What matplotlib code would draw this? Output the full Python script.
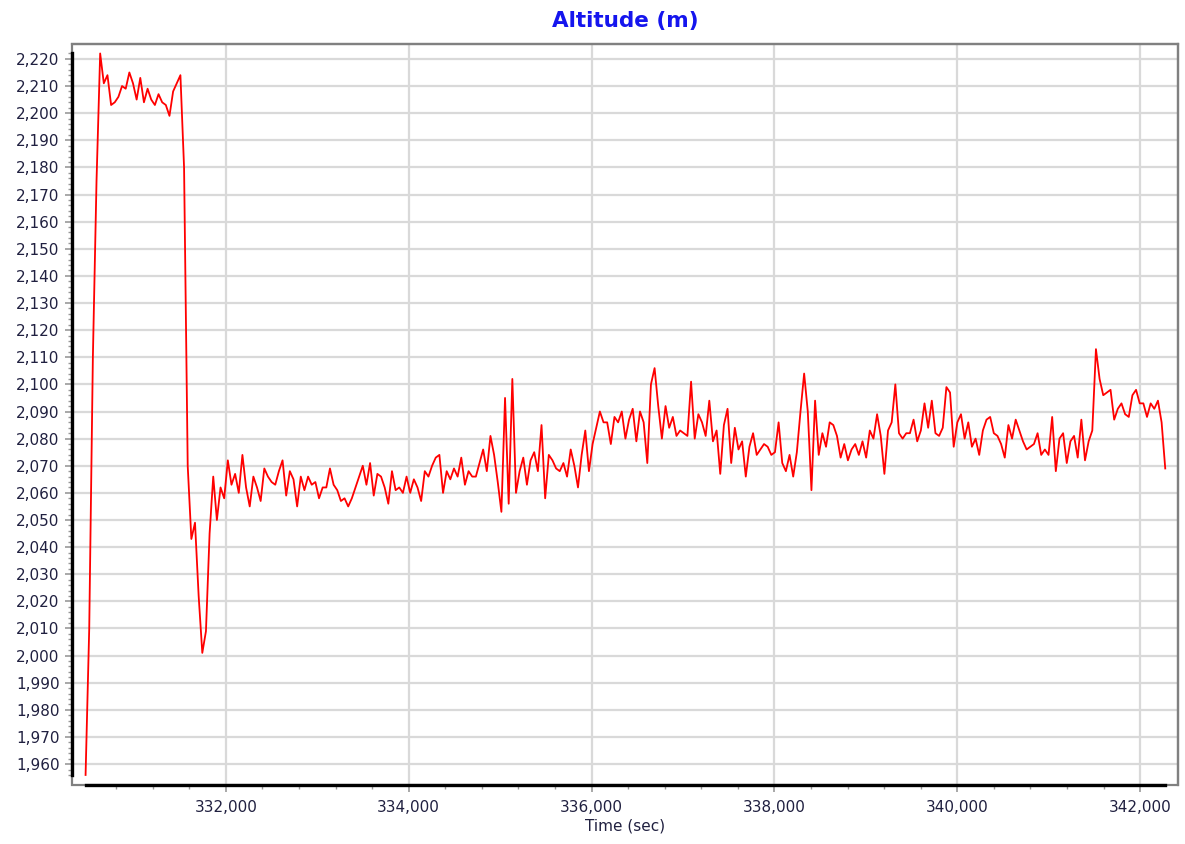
import numpy as np
import matplotlib.pyplot as plt
from matplotlib.patches import Rectangle
from matplotlib.ticker import FixedLocator, FuncFormatter


# sampling of the altitude trace (seconds)
T_START = 330465
T_STEP = 39.9

# altitude in metres, one row per ten samples
ALTITUDE = [
    1956, 2010, 2110, 2175, 2222, 2211, 2214, 2203, 2204, 2206,
    2210, 2209, 2215, 2211, 2205, 2213, 2204, 2209, 2205, 2203,
    2207, 2204, 2203, 2199, 2208, 2211, 2214, 2180, 2070, 2043,
    2049, 2022, 2001, 2009, 2045, 2066, 2050, 2062, 2058, 2072,
    2063, 2067, 2060, 2074, 2062, 2055, 2066, 2062, 2057, 2069,
    2066, 2064, 2063, 2068, 2072, 2059, 2068, 2065, 2055, 2066,
    2061, 2066, 2063, 2064, 2058, 2062, 2062, 2069, 2063, 2061,
    2057, 2058, 2055, 2058, 2062, 2066, 2070, 2063, 2071, 2059,
    2067, 2066, 2062, 2056, 2068, 2061, 2062, 2060, 2066, 2060,
    2065, 2062, 2057, 2068, 2066, 2070, 2073, 2074, 2060, 2068,
    2065, 2069, 2066, 2073, 2063, 2068, 2066, 2066, 2071, 2076,
    2068, 2081, 2074, 2064, 2053, 2095, 2056, 2102, 2060, 2068,
    2073, 2063, 2072, 2075, 2068, 2085, 2058, 2074, 2072, 2069,
    2068, 2071, 2066, 2076, 2070, 2062, 2074, 2083, 2068, 2078,
    2084, 2090, 2086, 2086, 2078, 2088, 2086, 2090, 2080, 2087,
    2091, 2079, 2090, 2086, 2071, 2100, 2106, 2092, 2080, 2092,
    2084, 2088, 2081, 2083, 2082, 2081, 2101, 2080, 2089, 2086,
    2081, 2094, 2079, 2083, 2067, 2085, 2091, 2071, 2084, 2076,
    2079, 2066, 2077, 2082, 2074, 2076, 2078, 2077, 2074, 2075,
    2086, 2071, 2068, 2074, 2066, 2075, 2090, 2104, 2090, 2061,
    2094, 2074, 2082, 2077, 2086, 2085, 2081, 2073, 2078, 2072,
    2076, 2078, 2074, 2079, 2073, 2083, 2080, 2089, 2081, 2067,
    2083, 2086, 2100, 2082, 2080, 2082, 2082, 2087, 2079, 2083,
    2093, 2084, 2094, 2082, 2081, 2084, 2099, 2097, 2077, 2086,
    2089, 2080, 2086, 2077, 2080, 2074, 2083, 2087, 2088, 2082,
    2081, 2078, 2073, 2085, 2080, 2087, 2083, 2079, 2076, 2077,
    2078, 2082, 2074, 2076, 2074, 2088, 2068, 2080, 2082, 2071,
    2079, 2081, 2073, 2087, 2072, 2079, 2083, 2113, 2102, 2096,
    2097, 2098, 2087, 2091, 2093, 2089, 2088, 2096, 2098, 2093,
    2093, 2088, 2093, 2091, 2094, 2086, 2069,
]

X_MAJOR = [332000, 334000, 336000, 338000, 340000, 342000]
Y_MAJOR = list(range(1960, 2221, 10))

TEXT = "#202040"
GRID = "#d9d9d9"


def main():
    alt = np.array(ALTITUDE, dtype=float)
    t = T_START + T_STEP * np.arange(len(alt))

    fig = plt.figure(figsize=(11.85, 8.44), dpi=100)
    ax = fig.add_axes([0.0608, 0.0699, 0.9333, 0.878])

    ax.plot(t, alt, color="#ff0000", linewidth=1.3, zorder=3)

    ax.set_xlim(330317, 342415)
    ax.set_ylim(1952.3, 2225.5)

    ax.xaxis.set_major_locator(FixedLocator(X_MAJOR))
    ax.yaxis.set_major_locator(FixedLocator(Y_MAJOR))
    ax.xaxis.set_minor_locator(
        FixedLocator([v for v in range(330800, 342400, 400) if v not in X_MAJOR])
    )
    ax.yaxis.set_minor_locator(
        FixedLocator([v for v in range(1956, 2223, 2) if v % 10])
    )
    fmt = FuncFormatter(lambda v, _: f"{v:,.0f}")
    ax.xaxis.set_major_formatter(fmt)
    ax.yaxis.set_major_formatter(fmt)

    ax.tick_params(which="major", length=5, width=1.2, color="#999999",
                   labelsize=11, labelcolor=TEXT, pad=6)
    ax.tick_params(which="minor", length=3, width=1.0, color="#999999")
    ax.tick_params(axis="y", which="major", pad=4)

    ax.grid(which="major", color=GRID, linewidth=1.6)
    ax.set_axisbelow(True)

    # outer grey frame, black axis lines only over the data range
    for side in ["top", "right"]:
        ax.spines[side].set_color("#808080")
        ax.spines[side].set_linewidth(1.6)
    for side in ["left", "bottom"]:
        ax.spines[side].set_color("black")
        ax.spines[side].set_linewidth(2.4)
        ax.spines[side].set_zorder(4)
    ax.spines["left"].set_bounds(alt.min(), alt.max())
    ax.spines["bottom"].set_bounds(t.min(), t.max())
    ax.add_patch(Rectangle((0, 0), 1, 1, transform=ax.transAxes, fill=False,
                           edgecolor="#808080", linewidth=1.6, clip_on=False,
                           zorder=2))

    ax.set_title("Altitude (m)", color="#1515ee", fontsize=15.5,
                 fontweight="bold", pad=12)
    ax.set_xlabel("Time (sec)", fontsize=11, color=TEXT, labelpad=2)

    fig.savefig("out.png", dpi=100)


if __name__ == "__main__":
    main()
